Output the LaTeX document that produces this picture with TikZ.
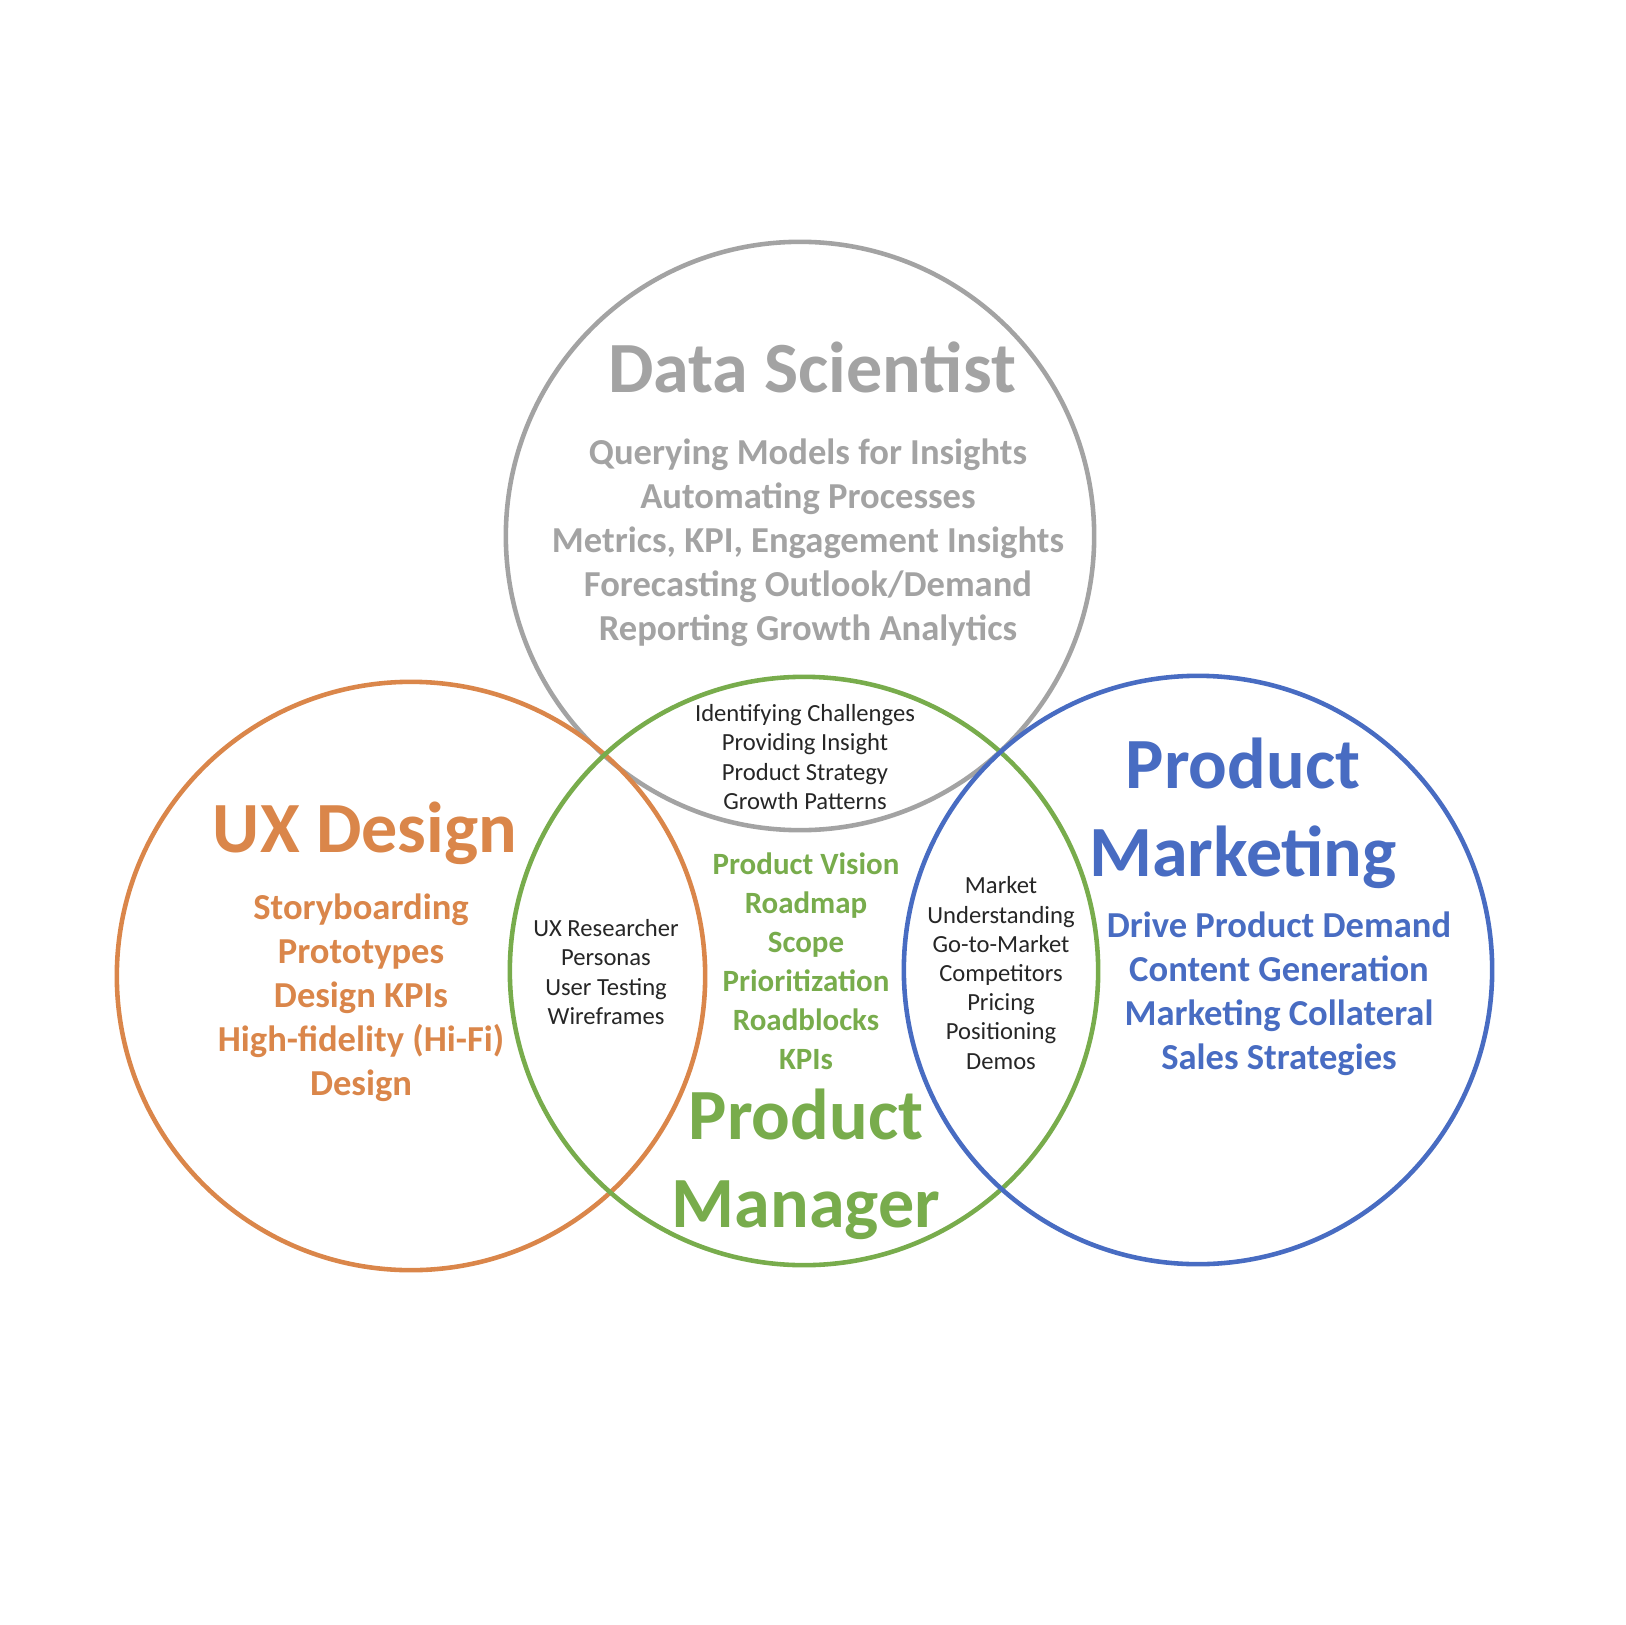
\documentclass[tikz,border=0pt]{standalone}
\usepackage{fontspec}
\setmainfont{Carlito}
\definecolor{dsgray}{RGB}{163,163,163}
\definecolor{uxorange}{RGB}{218,134,74}
\definecolor{pmgreen}{RGB}{120,172,76}
\definecolor{mkblue}{RGB}{72,108,194}

\begin{document}
\begin{tikzpicture}[
  x=0.01cm, y=-0.01cm,
  ring/.style={circle, draw, line width=1.3pt, minimum size=5.88cm, inner sep=0pt},
  head/.style={font=\bfseries\fontsize{20.5}{25}\selectfont, align=center, inner sep=0pt},
  items/.style={font=\bfseries\fontsize{10.4}{12.5}\selectfont, align=center, inner sep=0pt},
  pmitems/.style={font=\bfseries\fontsize{8.8}{11.1}\selectfont, align=center, inner sep=0pt},
  overlap/.style={font=\fontsize{7}{8.3}\selectfont, align=center, inner sep=0pt, text=black!85}
]
\useasboundingbox (0,0) rectangle (1625,1625);
% the four circles
\node[ring, draw=dsgray] (ds) at (800,536) {};
\node[ring, draw=uxorange] (ux) at (411,976) {};
\node[ring, draw=pmgreen] (pm) at (804,971) {};
\node[ring, draw=mkblue] (mk) at (1198,970) {};
% data scientist
\node[head, text=dsgray] (dsname) at (812,367) {Data Scientist};
\node[items, text=dsgray] (dslist) at (808,543) {Querying Models for Insights\\Automating Processes\\Metrics, KPI, Engagement Insights\\Forecasting Outlook/Demand\\Reporting Growth Analytics};
% ux design
\node[head, text=uxorange] (uxname) at (365,833) {UX Design};
\node[items, text=uxorange] (uxlist) at (361,998) {Storyboarding\\Prototypes\\Design KPIs\\High-fidelity (Hi-Fi)\\Design};
% product manager
\node[pmitems, text=pmgreen] (pmlist) at (806,961) {Product Vision\\Roadmap\\Scope\\Prioritization\\Roadblocks\\KPIs};
\node[head, text=pmgreen] (pmname) at (806,1164) {Product\\Manager};
% product marketing
\node[head, text=mkblue] (mkname) at (1243,813) {Product\\Marketing};
\node[items, text=mkblue] (mklist) at (1279,994) {Drive Product Demand\\Content Generation\\Marketing Collateral\\Sales Strategies};
% overlaps
\node[overlap] (dspm) at (805,757) {Identifying Challenges\\Providing Insight\\Product Strategy\\Growth Patterns};
\node[overlap] (uxpm) at (606,972) {UX Researcher\\Personas\\User Testing\\Wireframes};
\node[overlap] (pmmk) at (1001,973) {Market\\Understanding\\Go-to-Market\\Competitors\\Pricing\\Positioning\\Demos};
\end{tikzpicture}
\end{document}
